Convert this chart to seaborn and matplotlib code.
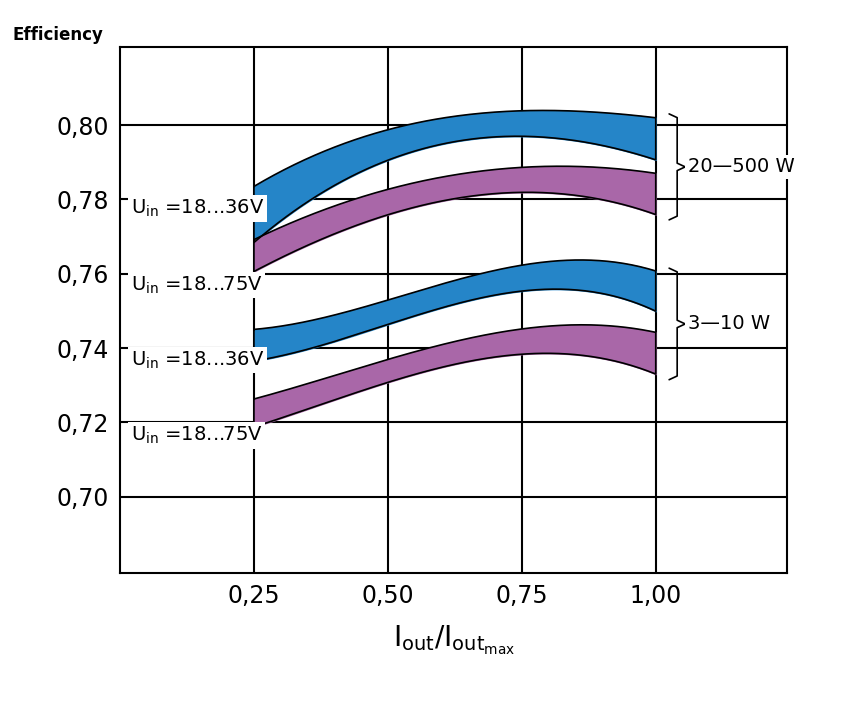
import matplotlib
matplotlib.use("Agg")
import matplotlib.pyplot as plt
import seaborn as sns
import numpy as np

x_pts = [0.25, 0.5, 0.75, 0.85, 1.0]
blue1_top = [0.7835, 0.7987, 0.8040, 0.8036, 0.8020]
blue1_bot = [0.7684, 0.7906, 0.7968, 0.7960, 0.7906]
purp1_top = [0.7692, 0.7826, 0.7890, 0.7885, 0.7871]
purp1_bot = [0.7606, 0.7759, 0.7818, 0.7812, 0.7759]
blue2_top = [0.7450, 0.7531, 0.7617, 0.7643, 0.7606]
blue2_bot = [0.7365, 0.7464, 0.7552, 0.7558, 0.7499]
purp2_top = [0.7263, 0.7370, 0.7450, 0.7464, 0.7442]
purp2_bot = [0.7188, 0.7308, 0.7383, 0.7383, 0.7330]
x_ticks = [0.25, 0.5, 0.75, 1.0]
x_labels = ["0,25", "0,50", "0,75", "1,00"]
y_ticks = [0.70, 0.72, 0.74, 0.76, 0.78, 0.80]
y_labels = ["0,70", "0,72", "0,74", "0,76", "0,78", "0,80"]
labels = ["18...36", "18...75", "18...36", "18...75"]

BLUE = "#2585c8"; PURP = "#a967a8"
sns.set_style("white")
fig = plt.figure(figsize=(8.42, 7.06), dpi=100)
ax = fig.add_axes([120/842, 1-573/706, 667/842, 526/706])
ax.set_xlim(0, 1.245); ax.set_ylim(0.6795, 0.821)
xs = np.linspace(0.25, 1.0, 200)
def smooth(top, bot):
    t = np.polyval(np.polyfit(x_pts, top, 3), xs)
    b = np.polyval(np.polyfit(x_pts, bot, 3), xs)
    return t, b
for top, bot, c in [(blue1_top, blue1_bot, BLUE), (purp1_top, purp1_bot, PURP),
                    (blue2_top, blue2_bot, BLUE), (purp2_top, purp2_bot, PURP)]:
    t, b = smooth(top, bot)
    ax.fill_between(xs, b, t, color=c, zorder=2)
    ax.plot(np.r_[xs, xs[::-1], xs[0]], np.r_[t, b[::-1], t[0]], color="black", lw=1.2, zorder=3)
for v in x_ticks:
    ax.axvline(v, color="black", lw=1.5, zorder=1)
for v in y_ticks:
    ax.axhline(v, color="black", lw=1.5, zorder=1)
ax.set_xticks(x_ticks); ax.set_xticklabels(x_labels, fontsize=17, color="black")
ax.set_yticks(y_ticks); ax.set_yticklabels(y_labels, fontsize=17, color="black")
ax.tick_params(length=0, pad=8)
for s in ax.spines.values():
    s.set_linewidth(1.5); s.set_color("black")
ly = [0.7775, 0.7570, 0.7368, 0.7165]
for y, l in zip(ly, labels):
    ax.text(0.02, y, "U$_{\\rm in}$ =" + l + "V", fontsize=14, va="center", ha="left",
            bbox=dict(fc="white", ec="none", pad=2), zorder=4, color="black")
def brace(y0, y1, text):
    ym = (y0 + y1)/2
    xb = 1.04
    ax.plot([1.025, xb, xb, 1.055, xb, xb, 1.025], [y1, y1-0.001, ym+0.001, ym, ym-0.001, y0+0.001, y0],
            color="black", lw=1.2, clip_on=False)
    ax.text(1.06, ym, text, fontsize=14, va="center", ha="left",
            bbox=dict(fc="white", ec="none", pad=2), zorder=4, color="black")
brace(0.7745, 0.8030, "20\u2014500 W")
brace(0.7315, 0.7615, "3\u201410 W")
fig.text(12/842, 1-35/706, "Efficiency", fontsize=12, fontweight="bold", va="center", color="black")
fig.text(454/842, 1-640/706, "I$_{\\rm out}$/I$_{\\rm out_{max}}$", fontsize=20, ha="center", va="center", color="black")
fig.savefig("out.png", dpi=100)
